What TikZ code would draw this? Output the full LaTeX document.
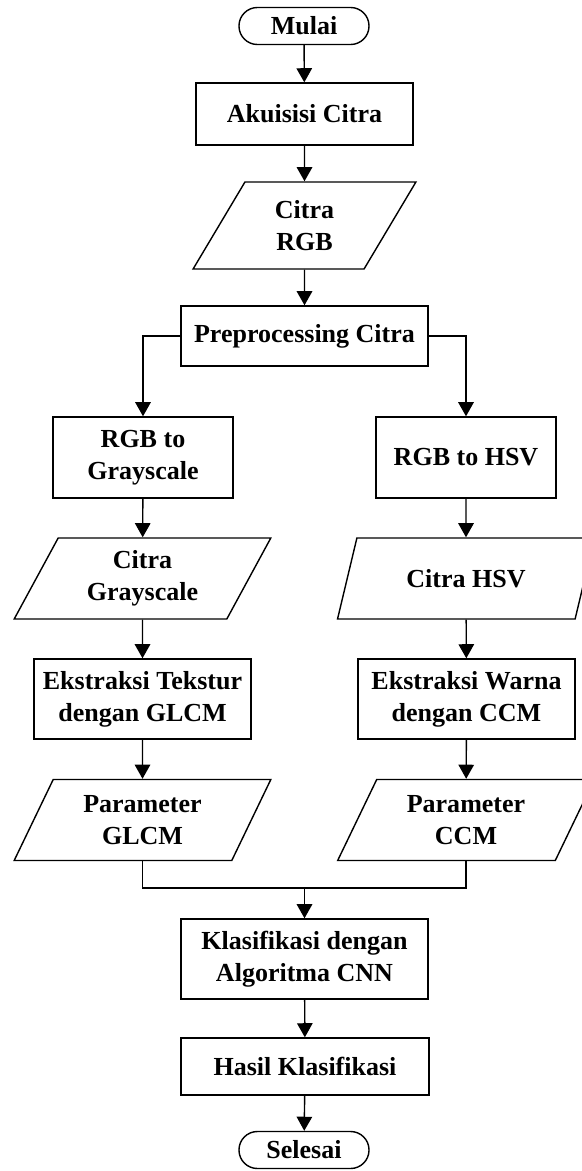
\documentclass[tikz,border=0pt]{standalone}
\usepackage{fontspec}
\setmainfont{Liberation Serif}
\usetikzlibrary{arrows.meta,positioning,shapes.geometric}

\begin{document}
\begin{tikzpicture}[x=0.025cm,y=-0.025cm,line width=1pt,
  font=\fontsize{18.5}{22.7}\selectfont\bfseries,
  proc/.style={draw,rectangle,align=center,inner sep=2pt},
  io/.style={draw,trapezium,trapezium left angle=63,trapezium right angle=117,
    trapezium stretches=true,align=center,inner sep=1pt},
  term/.style={draw,rectangle,rounded corners=4.6mm,minimum width=3.25cm,
    minimum height=0.925cm,inner sep=1pt},
  flow/.style={-{Triangle[width=11pt,length=10pt]}}]
\useasboundingbox (0,0) rectangle (582,1171);
\node[term] (mulai) at (304,26) {Mulai};
\node[proc,minimum width=5.425cm,minimum height=1.55cm] (akuisisi) at (304.5,114) {Akuisisi Citra};
\node[io,minimum width=5.575cm,minimum height=2.175cm] (rgb) at (304.5,225.5) {Citra\\RGB};
\node[proc,minimum width=6.175cm,minimum height=1.5cm] (prepro) at (304.5,336) {Preprocessing Citra};
% cabang kiri dan kanan
\node[proc,minimum width=4.5cm,minimum height=2.025cm] (gray) at (143,457.5) {RGB to\\Grayscale};
\node[proc,minimum width=4.5cm,minimum height=2.025cm] (hsv) at (466,457.5) {RGB to HSV};
\node[io,minimum width=6.425cm,minimum height=2.025cm] (cgray) at (142.5,578.5) {Citra\\Grayscale};
\node[io,minimum width=6.425cm,minimum height=2.025cm] (chsv) at (466,578.5) {Citra HSV};
\node[proc,minimum width=5.425cm,minimum height=2cm] (glcm) at (142.5,699) {Ekstraksi Tekstur\\dengan GLCM};
\node[proc,minimum width=5.425cm,minimum height=2cm] (ccm) at (466.5,699) {Ekstraksi Warna\\dengan CCM};
\node[io,minimum width=6.425cm,minimum height=2.025cm] (pglcm) at (142.5,820) {Parameter\\GLCM};
\node[io,minimum width=6.425cm,minimum height=2.025cm] (pccm) at (466,820) {Parameter\\CCM};
\coordinate (gabung) at (304.5,888);
\node[proc,minimum width=6.175cm,minimum height=2cm] (cnn) at (304.5,959) {Klasifikasi dengan\\Algoritma CNN};
\node[proc,minimum width=6.2cm,minimum height=1.425cm] (hasil) at (305,1066.5) {Hasil Klasifikasi};
\node[term] (selesai) at (304,1150) {Selesai};

\draw[flow] (mulai) -- (akuisisi);
\draw[flow] (akuisisi) -- (rgb);
\draw[flow] (rgb) -- (prepro);
\draw[flow] (prepro.west) -| (gray.north);
\draw[flow] (prepro.east) -| (hsv.north);
\draw[flow] (gray) -- (cgray);
\draw[flow] (hsv) -- (chsv);
\draw[flow] (cgray) -- (glcm);
\draw[flow] (chsv) -- (ccm);
\draw[flow] (glcm) -- (pglcm);
\draw[flow] (ccm) -- (pccm);
\draw (pglcm.south) |- (gabung) -| (pccm.south);
\draw[flow] (gabung) -- (cnn);
\draw[flow] (cnn) -- (hasil);
\draw[flow] (hasil) -- (selesai);
\end{tikzpicture}
\end{document}
